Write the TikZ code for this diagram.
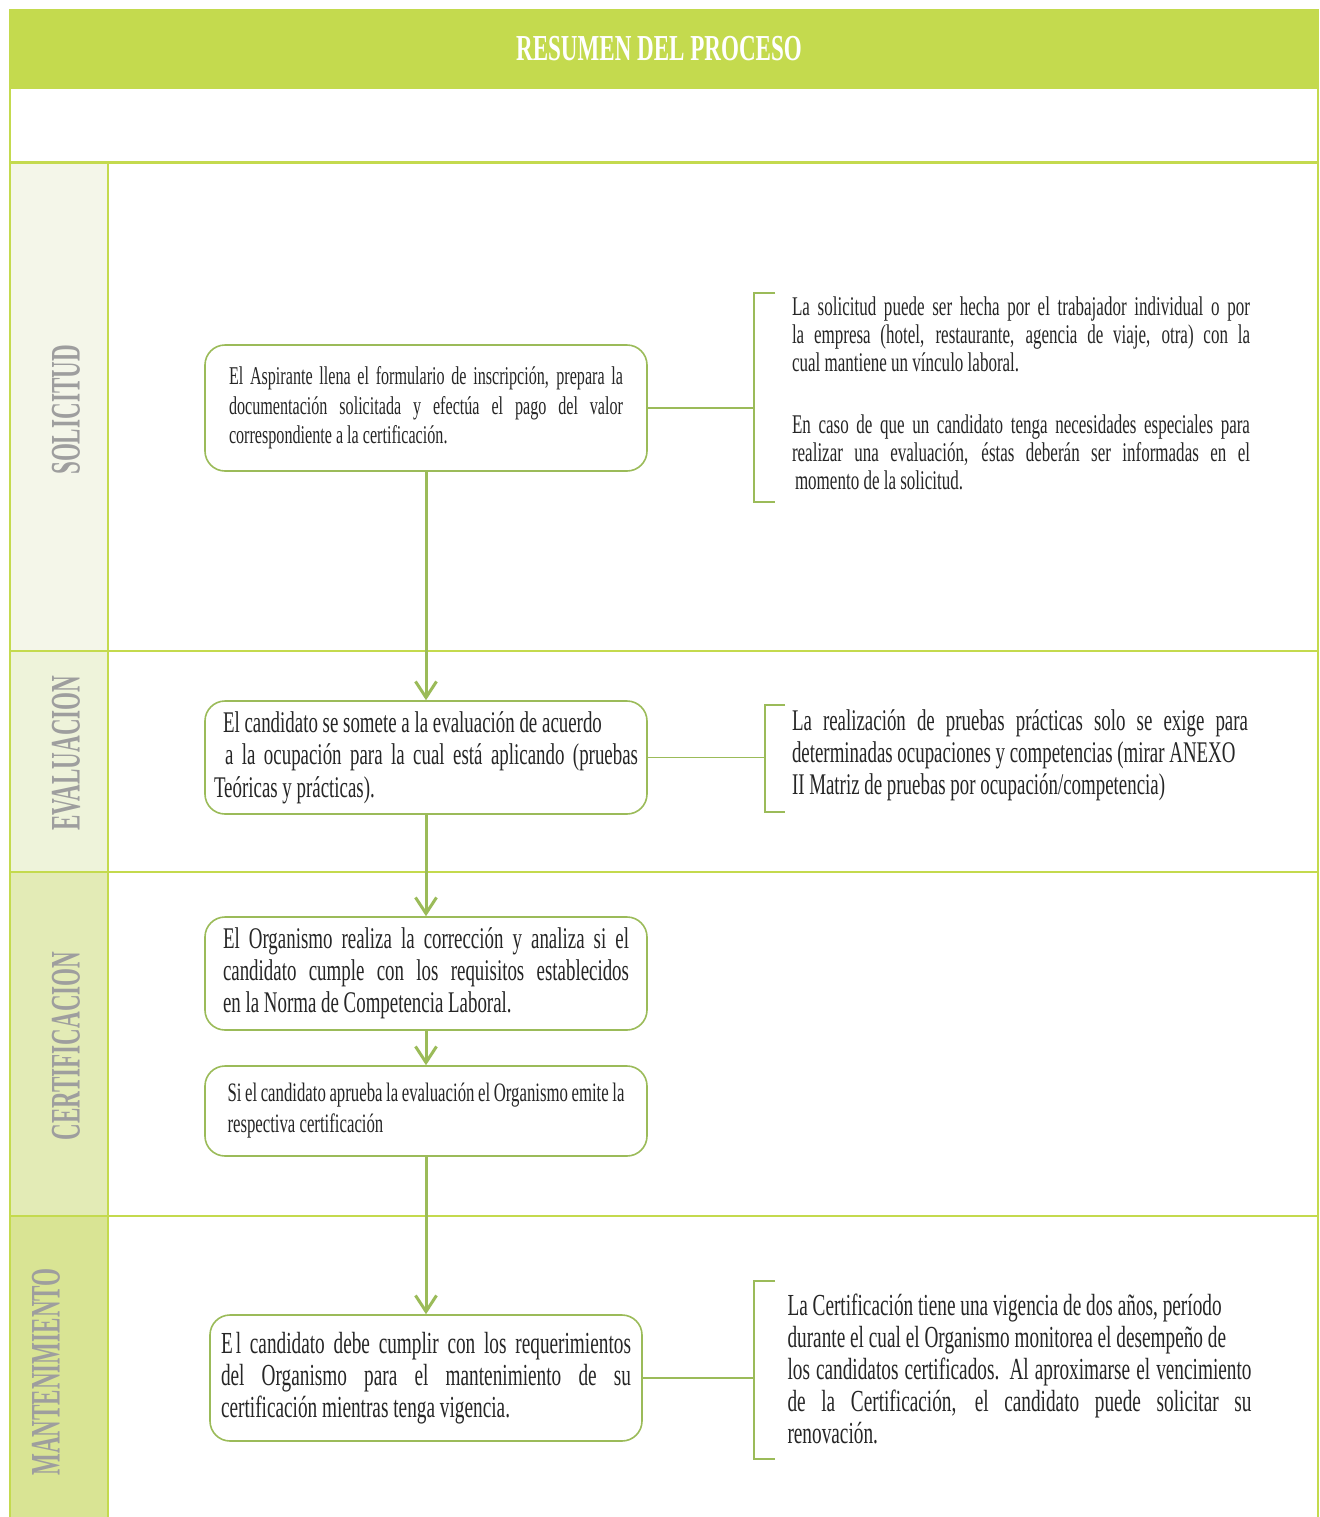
\documentclass[tikz,border=0pt]{standalone}
\usepackage{fontspec}
\setmainfont{Liberation Serif}[FakeStretch=0.63]
\newfontfamily\lanefont{Liberation Serif}[FakeStretch=0.55]
\usetikzlibrary{arrows.meta}

\definecolor{headColor}{RGB}{196,218,78}
\definecolor{boxColor}{RGB}{155,187,89}
\definecolor{textColor}{RGB}{38,38,38}
\definecolor{laneText}{RGB}{158,158,158}
\definecolor{laneSol}{RGB}{244,246,233}
\definecolor{laneEva}{RGB}{238,243,218}
\definecolor{laneCer}{RGB}{227,235,182}
\definecolor{laneMan}{RGB}{217,228,148}

\tikzset{
  stepbox/.style={draw=boxColor, line width=0.8pt, rounded corners=10pt, fill=white,
    text=textColor, align=justify, minimum width=221pt},
  notetext/.style={text=textColor, align=justify, inner sep=0pt},
  lanelabel/.style={rotate=90, text=laneText, inner sep=0pt,
    font=\lanefont\bfseries\fontsize{21}{24}\selectfont},
  flow/.style={draw=boxColor, line width=1.5pt, -{Straight Barb[length=8pt,width=10.5pt]}},
  link/.style={draw=boxColor, line width=0.8pt},
  bracket/.style={draw=boxColor, line width=0.8pt},
  laneline/.style={draw=headColor, line width=1pt}
}

\begin{document}
\begin{tikzpicture}[x=0.5pt,y=-0.5pt]
\path[use as bounding box,fill=white] (0,0) rectangle (1319,1517);

% header and lane columns
\path[fill=headColor] (10,9) rectangle (1318,89);
\path[fill=laneSol] (10,162) rectangle (108,651);
\path[fill=laneEva] (10,651) rectangle (108,872);
\path[fill=laneCer] (10,872) rectangle (108,1216);
\path[fill=laneMan] (10,1216) rectangle (108,1517);

\path[laneline] (10,9) -- (10,1517);
\path[laneline] (1318,9) -- (1318,1517);
\path[laneline] (108,162) -- (108,1517);
\path[laneline,line width=1.5pt] (10,162) -- (1318,162);
\path[laneline] (10,651) -- (1318,651);
\path[laneline] (10,872) -- (1318,872);
\path[laneline] (10,1216) -- (1318,1216);

\node[text=white,font=\fontsize{18.3}{20}\selectfont\bfseries] (titulo) at (659,49) {RESUMEN DEL PROCESO};

\node[lanelabel] (lsol) at (66,410) {SOLICITUD};
\node[lanelabel] (leva) at (66,753) {EVALUACION};
\node[lanelabel] (lcer) at (66,1046) {CERTIFICACION};
\node[lanelabel] (lman) at (46,1372) {MANTENIMIENTO};

% process steps
\node[stepbox,text width=197pt,minimum height=63pt,font=\fontsize{12.8}{14.75}\selectfont] (solicitud) at (426,408)
  {El Aspirante llena el formulario de inscripción, prepara la\linebreak
   documentación solicitada y efectúa el pago del valor\linebreak
   correspondiente a la certificación.};
\node[stepbox,text width=212pt,minimum height=56.5pt,font=\fontsize{15}{16.25}\selectfont] (evaluacion) at (426,757.5)
  {\hspace*{4.5pt}El candidato se somete a la evaluación de acuerdo\hfill\null\\
   \hspace*{5.5pt}a la ocupación para la cual está aplicando (pruebas\linebreak
   Teóricas y prácticas).};
\node[stepbox,text width=203pt,minimum height=56.5pt,font=\fontsize{15}{16}\selectfont] (correccion) at (426,973.5)
  {El Organismo realiza la corrección y analiza si el\linebreak
   candidato cumple con los requisitos establecidos\linebreak
   en la Norma de Competencia Laboral.};
\node[stepbox,text width=198.5pt,minimum height=45pt,font=\fontsize{13.3}{15.5}\selectfont] (emision) at (426,1111)
  {Si el candidato aprueba la evaluación el Organismo emite la\linebreak
   respectiva certificación};
\node[stepbox,minimum width=216pt,text width=205pt,minimum height=63pt,font=\fontsize{15.3}{16}\selectfont] (mantenimiento) at (426,1378)
  {E\kern1.5pt l candidato debe cumplir con los requerimientos\linebreak
   del Organismo para el mantenimiento de su\linebreak
   certificación mientras tenga vigencia.};

\draw[flow] (solicitud.south) -- (evaluacion.north);
\draw[flow] (evaluacion.south) -- (correccion.north);
\draw[flow] (correccion.south) -- (emision.north);
\draw[flow] (emision.south) -- (mantenimiento.north);

% side notes
\coordinate (brA) at (754,406);
\coordinate (brB) at (765,762);
\coordinate (brC) at (754,1380);
\draw[bracket] (775,293) -- (754,293) -- (754,502) -- (775,502);
\draw[bracket] (785,705) -- (765,705) -- (765,812) -- (785,812);
\draw[bracket] (775,1281) -- (754,1281) -- (754,1459) -- (775,1459);
\draw[link] (solicitud.east) -- (solicitud.east -| brA);
\draw[link] (evaluacion.east) -- (evaluacion.east -| brB);
\draw[link] (mantenimiento.east) -- (mantenimiento.east -| brC);

\node[notetext,text width=229pt,font=\fontsize{13.5}{14}\selectfont] (notaA) at (1021,393)
  {La solicitud puede ser hecha por el trabajador individual o por\linebreak
   la empresa (hotel, restaurante, agencia de viaje, otra) con la\linebreak
   cual mantiene un vínculo laboral.\\[17pt]
   En caso de que un candidato tenga necesidades especiales para\linebreak
   realizar una evaluación, éstas deberán ser informadas en el\linebreak
   \hspace*{1.5pt}momento de la solicitud.};
\node[notetext,text width=228pt,font=\fontsize{15}{16}\selectfont] (notaB) at (1020,755)
  {La realización de pruebas prácticas solo se exige para\linebreak
   determinadas ocupaciones y competencias (mirar ANEXO\\
   II Matriz de pruebas por ocupación/competencia)};
\node[notetext,text width=232pt,font=\fontsize{15.3}{16}\selectfont] (notaC) at (1019.5,1368.5)
  {La Certificación tiene una vigencia de dos años, período\\
   durante el cual el Organismo monitorea el desempeño de\\
   los candidatos certificados. Al aproximarse el vencimiento\linebreak
   de la Certificación, el candidato puede solicitar su\linebreak
   renovación.};
\end{tikzpicture}
\end{document}
